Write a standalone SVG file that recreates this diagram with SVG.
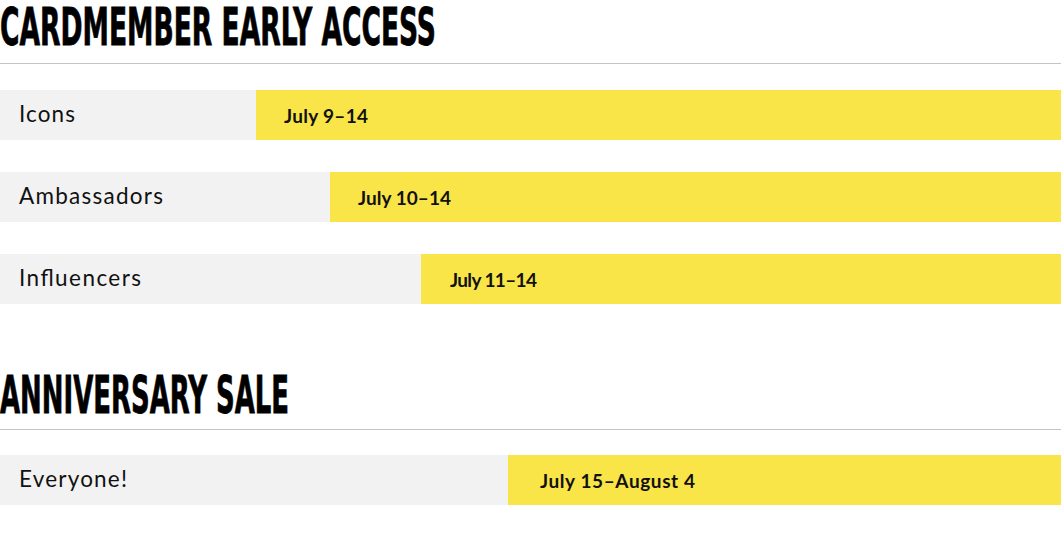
<svg xmlns="http://www.w3.org/2000/svg" width="1061" height="538" viewBox="0 0 1061 538">
<style>
.title{font-family:"DejaVu Sans Condensed","DejaVu Sans","Liberation Sans",sans-serif;font-weight:bold;font-size:51px;fill:#000;stroke:#000;stroke-width:0.8}
.rule{stroke:#c4c4c4;stroke-width:1.2}
.bg{fill:#f2f2f2}
.bar{fill:#f9e547}
.lbl{font-family:Lato,"Noto Sans",sans-serif;font-size:22.5px;fill:#111}
.date{font-family:Lato,"Noto Sans",sans-serif;font-weight:bold;font-size:19px;fill:#111}
</style>
<rect width="1061" height="538" fill="#fff"/>
<g id="title-early">
<text class="title" x="0" y="45" textLength="436" lengthAdjust="spacingAndGlyphs">CARDMEMBER EARLY ACCESS</text>
<line class="rule" x1="0" y1="63.5" x2="1061" y2="63.5"/>
</g>
<g id="row-icons">
<rect class="bg" x="0" y="90" width="1061" height="50"/>
<rect class="bar" x="256" y="90" width="805" height="50"/>
<text class="lbl" x="19" y="122" textLength="56">Icons</text>
<text class="date" x="284" y="123" textLength="84">July 9–14</text>
</g>
<g id="row-ambassadors">
<rect class="bg" x="0" y="172" width="1061" height="50"/>
<rect class="bar" x="330" y="172" width="731" height="50"/>
<text class="lbl" x="19" y="204" textLength="144">Ambassadors</text>
<text class="date" x="358" y="205" textLength="93">July 10–14</text>
</g>
<g id="row-influencers">
<rect class="bg" x="0" y="254" width="1061" height="50"/>
<rect class="bar" x="421" y="254" width="640" height="50"/>
<text class="lbl" x="19" y="286" textLength="122">Influencers</text>
<text class="date" x="450" y="287" textLength="87">July 11–14</text>
</g>
<g id="title-sale">
<text class="title" x="0" y="413" textLength="289" lengthAdjust="spacingAndGlyphs">ANNIVERSARY SALE</text>
<line class="rule" x1="0" y1="429.5" x2="1061" y2="429.5"/>
</g>
<g id="row-everyone">
<rect class="bg" x="0" y="455" width="1061" height="50"/>
<rect class="bar" x="508" y="455" width="553" height="50"/>
<text class="lbl" x="19" y="487" textLength="108">Everyone!</text>
<text class="date" x="540" y="488" textLength="155">July 15–August 4</text>
</g>
<g id="connectors"/>
</svg>
